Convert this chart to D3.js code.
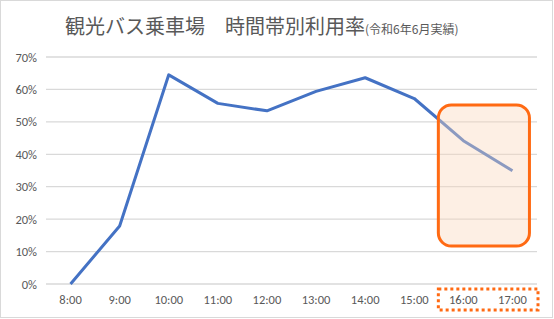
<!DOCTYPE html>
<html>
<head>
<meta charset="utf-8">
<script src="https://cdn.jsdelivr.net/npm/d3@7"></script>
<style>
  body { margin: 0; background: #fff; }
  svg { display: block; font-family: Calibri, "Liberation Sans", "Noto Sans CJK JP", sans-serif; }
</style>
</head>
<body>
<svg id="chart"></svg>
<script>
const hours = ['8:00', '9:00', '10:00', '11:00', '12:00', '13:00', '14:00', '15:00', '16:00', '17:00'];
const rates = [0, 17.9, 64.5, 55.7, 53.4, 59.4, 63.6, 57.2, 44.2, 34.9];
const yTicks = [0, 10, 20, 30, 40, 50, 60, 70];
const highlighted = ['16:00', '17:00'];

const width = 554;
const height = 319;
const margin = { top: 57, right: 17, bottom: 35, left: 46 };

const svg = d3.select('#chart')
  .attr('width', width)
  .attr('height', height);

// outer frame
svg.append('rect')
  .attr('x', 0.5).attr('y', 0.5)
  .attr('width', width - 2).attr('height', height - 2)
  .attr('fill', '#fff')
  .attr('stroke', '#d9d9d9');

const x = d3.scalePoint()
  .domain(hours)
  .range([margin.left, width - margin.right])
  .padding(0.5);

const y = d3.scaleLinear()
  .domain([0, 70])
  .range([height - margin.bottom, margin.top]);

// gridlines
svg.append('g')
  .selectAll('line')
  .data(yTicks)
  .enter().append('line')
  .attr('x1', margin.left)
  .attr('x2', width - margin.right)
  .attr('y1', d => y(d))
  .attr('y2', d => y(d))
  .attr('stroke', '#d9d9d9')
  .attr('stroke-width', 1.3);

// y labels
svg.append('g')
  .selectAll('text')
  .data(yTicks)
  .enter().append('text')
  .attr('x', 37)
  .attr('y', d => y(d) + 4.5)
  .attr('text-anchor', 'end')
  .attr('fill', '#595959')
  .attr('font-size', 12.5)
  .text(d => `${d}%`);

// x labels
svg.append('g')
  .selectAll('text')
  .data(hours)
  .enter().append('text')
  .attr('x', d => x(d))
  .attr('y', 304)
  .attr('text-anchor', 'middle')
  .attr('fill', '#595959')
  .attr('font-size', 12.5)
  .text(d => d);

// line
const line = d3.line()
  .x((d, i) => x(hours[i]))
  .y(d => y(d));

svg.append('path')
  .datum(rates)
  .attr('d', line)
  .attr('fill', 'none')
  .attr('stroke', '#4472c4')
  .attr('stroke-width', 3)
  .attr('stroke-linejoin', 'round');

// highlight box over the last two points
const hx0 = x(highlighted[0]) - 25;
const hx1 = x(highlighted[1]) + 17;
svg.append('rect')
  .attr('x', hx0)
  .attr('y', 105)
  .attr('width', hx1 - hx0)
  .attr('height', 141)
  .attr('rx', 13)
  .attr('fill', 'rgba(250, 214, 188, 0.4)')
  .attr('stroke', '#ff6a13')
  .attr('stroke-width', 3);

// dotted box around the highlighted labels
svg.append('rect')
  .attr('x', hx0)
  .attr('y', 289)
  .attr('width', 538 - hx0)
  .attr('height', 21)
  .attr('fill', 'none')
  .attr('stroke', '#ff6a13')
  .attr('stroke-width', 3)
  .attr('stroke-dasharray', '3,3');

// title
const title = svg.append('text')
  .attr('x', 65)
  .attr('y', 34)
  .attr('fill', '#595959')
  .attr('font-family', '"Noto Sans CJK JP", sans-serif');
title.append('tspan')
  .attr('font-size', 20)
  .text('観光バス乗車場　時間帯別利用率');
title.append('tspan')
  .attr('font-size', 12)
  .text('(令和6年6月実績)');
</script>
</body>
</html>
